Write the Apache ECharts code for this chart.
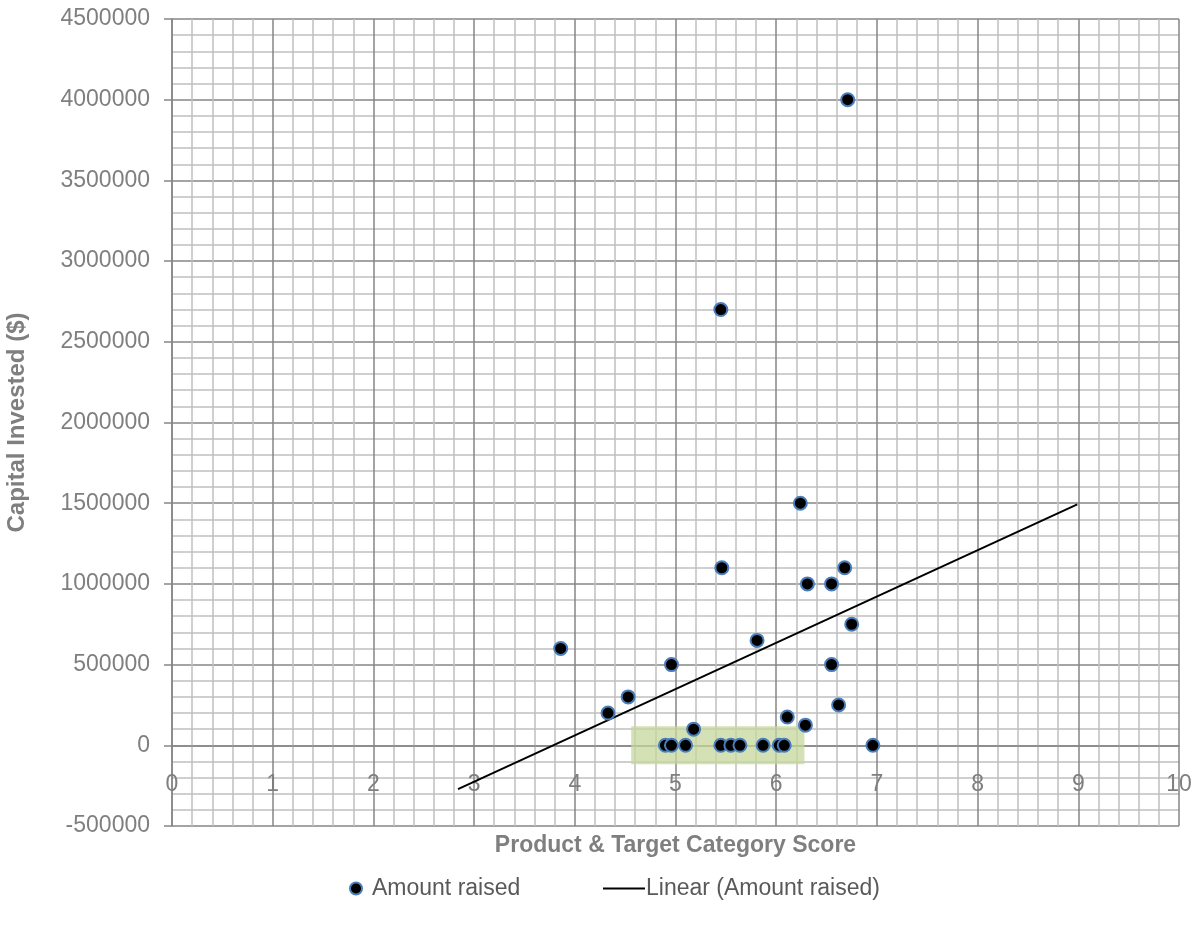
<!DOCTYPE html>
<html>
<head>
<meta charset="utf-8">
<script src="https://cdn.jsdelivr.net/npm/echarts@6/dist/echarts.min.js"></script>
<style>
  html, body { margin: 0; padding: 0; background: #fff; }
  #main { width: 1194px; height: 927px; }
</style>
</head>
<body>
<div id="main"></div>
<script>
// product & target category score for each company
const scores = [3.86, 4.33, 4.53, 4.90, 4.96, 4.96, 5.10, 5.18, 5.45, 5.45, 5.46, 5.55, 5.64, 5.81,
  5.87, 6.03, 6.08, 6.11, 6.24, 6.29, 6.31, 6.55, 6.55, 6.62, 6.68, 6.71, 6.75, 6.96];
// amount raised ($)
const raised = [600000, 200000, 300000, 0, 0, 500000, 0, 100000, 0, 2700000, 1100000, 0, 0, 650000,
  0, 0, 0, 175000, 1500000, 125000, 1000000, 1000000, 500000, 250000, 1100000, 4000000, 750000, 0];
// excel linear trendline, endpoints as drawn
const trendX = [2.84, 8.99];
const trendY = [-272000, 1493000];
// highlighted cluster on the zero line
const boxX = [4.56, 6.28];
const boxY = [-118000, 118000];

const yMin = -500000, yMax = 4500000;

const gray = '#868686';
const light = '#c0c0c0';
const txt = '#7f7f7f';
const font = '"Liberation Sans", Arial, sans-serif';

const chart = echarts.init(document.getElementById('main'));

const points = scores.map((s, i) => [s, raised[i]]);
const trend = trendX.map((x, i) => [x, trendY[i]]);

// x axis crosses at y = 0: lift it from the bottom of the plot
const plotH = 927 - 19 - 101;
const zeroLift = plotH * (0 - yMin) / (yMax - yMin);

chart.setOption({
  animation: false,
  textStyle: { fontFamily: font },
  grid: { left: 172, right: 15, top: 19, bottom: 101, outerBoundsMode: 'none', containLabel: false },
  legend: [
    {
      data: ['Amount raised'],
      left: 344, top: 872,
      itemWidth: 12, itemHeight: 12,
      textStyle: { color: '#595959', fontSize: 23, fontFamily: font, padding: [0, 0, 0, 5] }
    },
    {
      data: [{ name: 'Linear (Amount raised)', icon: 'rect' }],
      left: 598, top: 872,
      itemWidth: 42, itemHeight: 2,
      itemStyle: { color: '#000', borderWidth: 0 },
      textStyle: { color: '#595959', fontSize: 23, fontFamily: font, padding: [0, 0, 0, -4] }
    }
  ],
  xAxis: {
    type: 'value',
    min: 0, max: 10, interval: 1,
    offset: -zeroLift,
    name: 'Product & Target Category Score',
    nameLocation: 'middle',
    nameGap: 89,
    nameTextStyle: { color: txt, fontWeight: 'bold', fontSize: 23, fontFamily: font },
    axisLine: { onZero: false, lineStyle: { color: gray, width: 1.5 } },
    axisTick: { show: false },
    axisLabel: { color: txt, fontSize: 23, margin: 28, fontFamily: font },
    splitLine: { show: true, lineStyle: { color: gray, width: 1.5 } },
    minorTick: { show: false, splitNumber: 5 },
    minorSplitLine: { show: true, lineStyle: { color: light, width: 1.5 } }
  },
  yAxis: {
    type: 'value',
    min: yMin, max: yMax, interval: 500000,
    name: 'Capital Invested ($)',
    nameLocation: 'middle',
    nameGap: 143,
    nameTextStyle: { color: txt, fontWeight: 'bold', fontSize: 24, fontFamily: font },
    axisLine: { show: true, onZero: false, lineStyle: { color: gray, width: 1.5 } },
    axisTick: { show: true, length: 8, lineStyle: { color: gray, width: 1.5 } },
    axisLabel: { color: txt, fontSize: 23, margin: 22, fontFamily: font, formatter: v => String(v) },
    splitLine: { show: true, lineStyle: { color: gray, width: 1.5 } },
    minorTick: { show: false, splitNumber: 5 },
    minorSplitLine: { show: true, lineStyle: { color: light, width: 1.5 } }
  },
  series: [
    {
      name: 'Linear (Amount raised)',
      type: 'line',
      z: 2,
      data: trend,
      symbol: 'none',
      lineStyle: { color: '#000', width: 2 },
      itemStyle: { color: '#000' },
      markArea: {
        silent: true,
        itemStyle: { color: 'rgba(196,215,155,0.75)' },
        data: [[{ coord: [boxX[0], boxY[0]] }, { coord: [boxX[1], boxY[1]] }]]
      }
    },
    {
      name: 'Amount raised',
      type: 'scatter',
      z: 3,
      data: points,
      symbolSize: 13,
      itemStyle: { color: '#000', borderColor: '#4a7ebb', borderWidth: 2, opacity: 1 }
    }
  ]
});
</script>
</body>
</html>
